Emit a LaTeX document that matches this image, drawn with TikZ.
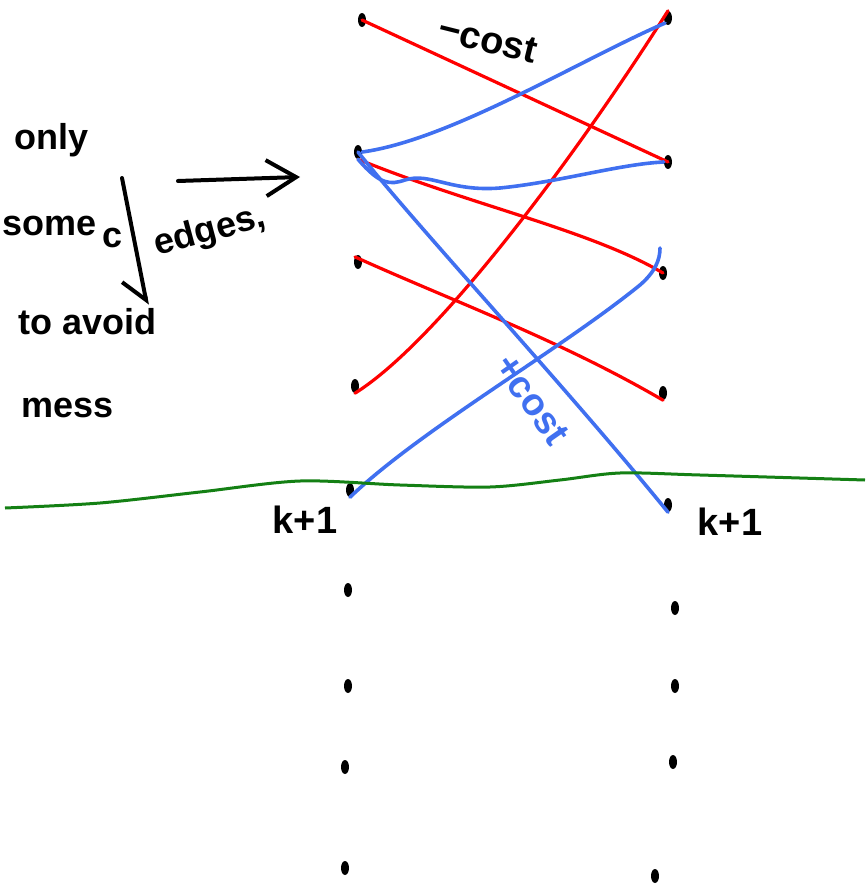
\documentclass[tikz,border=0pt]{standalone}
\usepackage{fontspec}
\setmainfont{Liberation Sans}
\usetikzlibrary{arrows.meta,shapes.geometric}
\definecolor{penred}{RGB}{255,0,0}
\definecolor{penblue}{RGB}{64,112,240}
\definecolor{pengreen}{RGB}{20,128,20}
\tikzset{
  vdot/.style={ellipse,fill=black,inner sep=0pt,minimum width=8pt,minimum height=14pt},
  rededge/.style={draw=penred,line width=3.2pt,line cap=round},
  blueedge/.style={draw=penblue,line width=3.6pt,line cap=round},
  sepline/.style={draw=pengreen,line width=3pt},
  note/.style={font=\fontsize{36}{40}\selectfont\bfseries,inner sep=0pt},
  lab/.style={font=\fontsize{38}{40}\selectfont\bfseries,inner sep=0pt},
  pointer/.style={draw=black,line width=4pt,line cap=round}
}
\begin{document}
\begin{tikzpicture}[x=1pt,y=-1pt]
\useasboundingbox (0,0) rectangle (865,886);
% left column
\node[vdot] (L1) at (362,20) {};
\node[vdot] (L2) at (358,152) {};
\node[vdot] (L3) at (358,262) {};
\node[vdot] (L4) at (355,386) {};
\node[vdot] (L5) at (350,490) {};
\node[vdot] (L6) at (348,590) {};
\node[vdot] (L7) at (348,686) {};
\node[vdot] (L8) at (345,767) {};
\node[vdot] (L9) at (345,868) {};
% right column
\node[vdot] (R1) at (668,18) {};
\node[vdot] (R2) at (668,162) {};
\node[vdot] (R3) at (663,273) {};
\node[vdot] (R4) at (663,393) {};
\node[vdot] (R5) at (668,505) {};
\node[vdot] (R6) at (675,608) {};
\node[vdot] (R7) at (675,686) {};
\node[vdot] (R8) at (673,762) {};
\node[vdot] (R9) at (655,876) {};
% red edges
\draw[rededge] (L1.center) -- (R2.center);
\draw[rededge] (L4.south) .. controls (440,340) and (580,150) .. (R1.north);
\draw[rededge] (L2.south) .. controls (470,205) and (590,230) .. (R3.center);
\draw[rededge] (L3.north west) .. controls (450,300) and (560,340) .. (R4.south);
% blue edges
\draw[blueedge] (L2.east) .. controls (450,140) and (580,60) .. (R1.south west);
\draw[blueedge] (L2.south) .. controls (380,185) and (390,185) .. (405,180)
  .. controls (430,172) and (450,192) .. (500,188)
  .. controls (560,182) and (620,164) .. (R2.west);
\draw[blueedge] (L2.center) .. controls (420,230) and (560,380) .. (R5.south);
\draw[blueedge] (L5.south) .. controls (420,430) and (560,350) .. (640,285)
  .. controls (655,272) and (660,260) .. (660,248);
% separator
\draw[sepline] plot[smooth] coordinates {(5,508) (100,503) (200,492) (300,481) (400,485) (490,487) (560,480) (620,473) (700,475) (865,480)};
% labels
\node[lab,rotate=-14] (mcost) at (488,40) {−cost};
\node[lab,text=penblue,rotate=-55] (pcost) at (532,400) {+cost};
\node[lab] (kl) at (305,520) {k+1};
\node[lab] (kr) at (730,522) {k+1};
% note
\node[note] (n1) at (52,140) {only};
\node[note] (n2) at (50,226) {some};
\node[note] (n2c) at (113,238) {c};
\node[note,rotate=15] (n3) at (210,232) {edges,};
\node[note] (n4) at (88,322) {to avoid};
\node[note] (n5) at (68,408) {mess};
\coordinate (a1s) at (178,181);
\coordinate (a1e) at (300,177);
\coordinate (a2s) at (122,178);
\coordinate (a2e) at (147,305);
\draw[pointer,-{Straight Barb[length=30pt,width=36pt]}] (a1s) -- (a1e);
\draw[pointer,-{Straight Barb[right,length=22pt,width=40pt]}] (a2s) -- (a2e);
\end{tikzpicture}
\end{document}
